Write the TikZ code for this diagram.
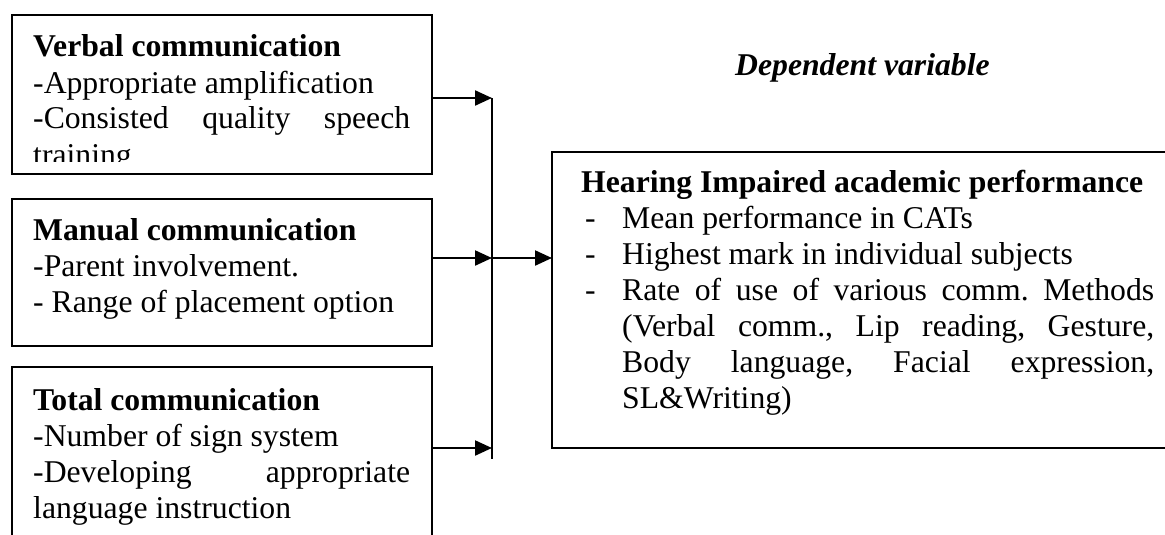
\documentclass[tikz,border=0pt]{standalone}
\usepackage{fontspec}
\setmainfont{Liberation Serif}
\usetikzlibrary{arrows.meta}
\frenchspacing
\begin{document}
\begin{tikzpicture}[x=1pt,y=-1pt,
  box/.style={draw, line width=2pt, inner sep=0pt, outer sep=0pt, anchor=north west},
  txt/.style={anchor=base west, inner sep=0pt, font=\fontsize{31.7pt}{36pt}\selectfont},
  arr/.style={line width=2.2pt, -{Triangle[length=17pt,width=15pt]}},
  conn/.style={line width=2.2pt}]
\clip (0,0) rectangle (1165,535);
\fill[white] (0,0) rectangle (1165,535);
% boxes
\node[box, minimum width=420pt, minimum height=159pt] (b1) at (12,15) {};
\node[box, minimum width=420pt, minimum height=147pt] (b2) at (12,199) {};
\node[box, minimum width=420pt, minimum height=200pt] (b3) at (12,367) {};
\node[box, minimum width=640pt, minimum height=296pt] (dv) at (552,152) {};
% texts
\begin{scope}
\clip (12,15) rectangle (432,161);
\node[txt] (t1) at (33,57) {\parbox[t]{390pt}{\raggedright
\textbf{Verbal communication}\\
-Appropriate amplification\\
\makebox[377pt][s]{-Consisted quality speech}\\
training}};
\end{scope}
\node[txt] (t2) at (33,240) {\parbox[t]{390pt}{\raggedright
\textbf{Manual communication}\\
-Parent involvement.\\
- Range of placement option}};
\node[txt] (t3) at (33,410) {\parbox[t]{390pt}{\raggedright
\textbf{Total communication}\\
-Number of sign system\\
\makebox[377pt][s]{-Developing appropriate}\\
language instruction}};
\node[txt] (t4) at (581,192) {\parbox[t]{580pt}{\raggedright
\textbf{Hearing Impaired academic performance}\\
\hspace*{4pt}\makebox[37pt][l]{-}Mean performance in CATs\\
\hspace*{4pt}\makebox[37pt][l]{-}Highest mark in individual subjects\\
\hspace*{4pt}\makebox[37pt][l]{-}\makebox[532pt][s]{Rate of use of various comm. Methods}\\
\hspace*{41pt}\makebox[532pt][s]{(Verbal comm., Lip reading, Gesture,}\\
\hspace*{41pt}\makebox[532pt][s]{Body language, Facial expression,}\\
\hspace*{41pt}SL\&Writing)}};
\node[txt] (lbl) at (735,76) {\textbf{\textit{Dependent variable}}};
% connectors
\coordinate (j1) at (492,98);
\coordinate (j2) at (492,258);
\coordinate (j3) at (492,448);
\coordinate (jend) at (492,459);
\draw[conn] (j1) -- (jend);
\draw[arr] (b1.east |- j1) -- (j1);
\draw[arr] (b2.east |- j2) -- (j2);
\draw[arr] (b3.east |- j3) -- (j3);
\draw[arr] (j2) -- (dv.west |- j2);
\end{tikzpicture}
\end{document}
